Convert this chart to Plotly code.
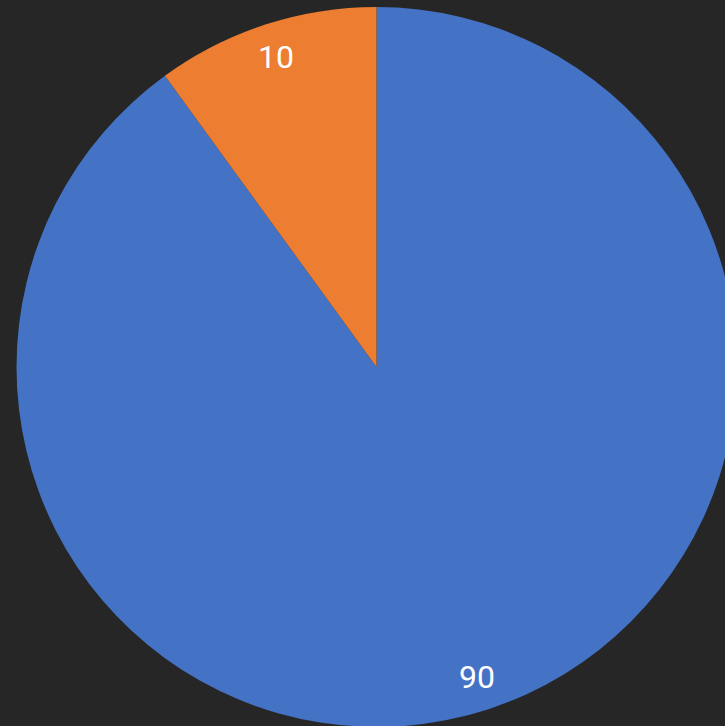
import math
import plotly.graph_objects as go

labels = ["A", "B"]
values = [90, 10]
colors = ["#4472C4", "#ED7D31"]

# figure slightly larger than the window so the pie is clipped at right/bottom like the reference
W, H = 737, 727
ML, MT, MR, MB = 16, 7, 0, 0

fig = go.Figure(go.Pie(
    labels=labels,
    values=values,
    sort=False,
    direction="clockwise",
    rotation=0,
    marker=dict(colors=colors, line=dict(width=0)),
    textinfo="none",
    hoverinfo="label+value",
    showlegend=False,
))

# label positions derived from the data (mid-angle of each slice, near the rim)
pw, ph = W - ML - MR, H - MT - MB
r = min(pw, ph) / 2
cx, cy = pw / 2, ph / 2
total = sum(values)
start = 0.0
for v in values:
    mid = (start + v / 2) / total * 2 * math.pi
    start += v
    px = cx + 0.905 * r * math.sin(mid)
    py = cy - 0.905 * r * math.cos(mid)
    fig.add_annotation(
        x=px / pw, y=1 - py / ph, xref="paper", yref="paper",
        xanchor="center", yanchor="middle",
        text=str(v), showarrow=False,
        font=dict(family="Roboto", size=32, color="white"),
    )

fig.update_layout(
    width=W, height=H,
    margin=dict(l=ML, r=MR, t=MT, b=MB),
    paper_bgcolor="#262626",
    plot_bgcolor="#262626",
)

fig.write_html(
    "out.html",
    config={"displayModeBar": False},
    post_script="document.body.style.margin='0';document.body.style.overflow='hidden';"
                "document.body.style.background='#262626';",
)
